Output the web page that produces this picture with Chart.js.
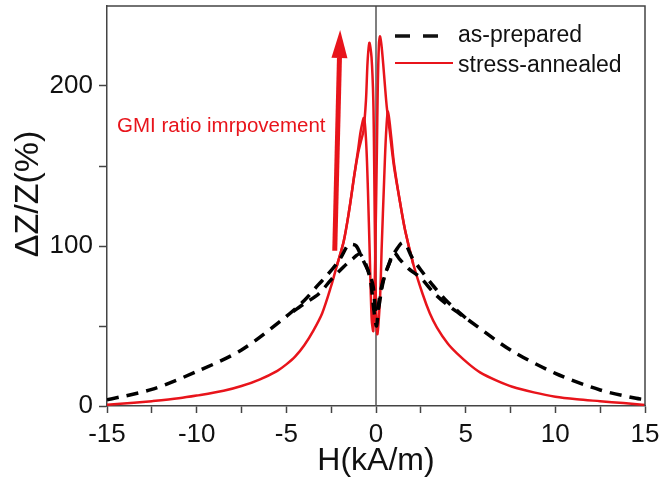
<!DOCTYPE html>
<html>
<head>
<meta charset="utf-8">
<script src="https://cdn.jsdelivr.net/npm/chart.js@4/dist/chart.umd.min.js"></script>
<style>
    html, body { margin: 0; padding: 0; background: #fff; }
    #wrap { width: 660px; height: 489px; }
</style>
</head>
<body>
<div id="wrap"><canvas id="grafico" width="660" height="489"></canvas></div>
<script>
// as-prepared: ida completa (-15 -> 15) e trecho central da volta (5 -> -5)
const hAsPrepIda = [-15, -12.5, -10, -7.5, -5, -4, -3.2, -2.7, -2, -1.6, -1.4, -1.1, -0.8, -0.5, -0.3, -0.15, 0, 0.12, 0.3, 0.45, 0.7, 1.0, 1.3, 1.8, 2.5, 3.2, 4, 5, 7.5, 10, 12.5, 14.5, 15];
const zAsPrepIda = [3.8, 10.4, 21.5, 35, 56, 66, 76, 82, 92, 100, 101, 100, 93, 86, 81, 74, 58, 60, 72, 80, 88, 96, 92, 86, 80, 71, 63, 55, 35, 20.4, 10, 4.8, 4];
const hAsPrepVolta = [5, 4, 3.2, 2.5, 2, 1.7, 1.45, 1.1, 0.85, 0.5, 0.3, 0.15, 0.03, -0.12, -0.3, -0.55, -0.9, -1.3, -1.8, -2.5, -3.2, -4, -5];
const zAsPrepVolta = [55, 65, 75, 85, 93, 100, 102, 97, 92, 82, 74, 64, 50, 60, 78, 88, 95, 92, 87, 79, 70, 64, 56];

// stress-annealed: ida completa e trecho central da volta
const hRecozIda = [-15, -13.5, -12.5, -11, -10, -8.5, -7.5, -6.5, -5.5, -5, -4.5, -4, -3.5, -3, -2.5, -2.2, -1.8, -1.5, -1.2, -1, -0.85, -0.67, -0.55, -0.45, -0.35, -0.24, -0.15, -0.05, 0.05, 0.1, 0.16, 0.22, 0.3, 0.4, 0.5, 0.6, 0.75, 1, 1.3, 1.62, 2.07, 2.6, 3, 3.4, 4, 4.5, 5.2, 5.8, 6.7, 7.6, 8.8, 10, 11.2, 12.5, 13.8, 15];
const zRecozIda = [0.8, 2, 3, 4.8, 6.5, 9.5, 12.5, 16.5, 22, 26, 31, 38, 47, 58, 75, 87, 103, 122, 145, 160, 172, 180, 165, 135, 95, 54, 47, 90, 160, 200, 225, 231, 226, 214, 200, 187, 173, 150, 130, 110, 89, 70, 58, 49, 39, 33, 26, 21, 16, 12, 8.5, 5.8, 4.2, 3, 1.8, 0.6];
const hRecozVolta = [2.07, 1.62, 1.3, 1, 0.85, 0.67, 0.56, 0.45, 0.32, 0.22, 0.07, -0.03, -0.1, -0.15, -0.25, -0.37, -0.47, -0.56, -0.7, -0.85, -1, -1.2, -1.5, -1.8, -2.2];
const zRecozVolta = [89, 110, 130, 152, 168, 184, 170, 140, 100, 66, 45, 80, 150, 191, 218, 227, 215, 191, 172, 165, 158, 145, 122, 103, 87];

const xTicksRotulo = [-15, -10, -5, 0, 5, 10, 15];
const yTicksRotulo = [0, 100, 200];
const tituloY = 'ΔZ/Z(%)';
const legendaNomes = ['as-prepared', 'stress-annealed'];
const textoAnotacao = 'GMI ratio imrpovement';
const anotacaoPos = { x: -14.44, y: 171 };
const setaDe = { x: -2.3, y: 97 };
const setaAte = { x: -2.0, y: 235 };

const VERMELHO = '#e8141b';
const FONTE = "'Liberation Sans', Arial, sans-serif";

function pares(hs, zs) {
    return hs.map((h, i) => ({ x: h, y: zs[i] }));
}

function serie(hs, zs, cor, largura, tracejado) {
    return {
        data: pares(hs, zs),
        borderColor: cor,
        borderWidth: largura,
        borderDash: tracejado || [],
        pointRadius: 0,
        tension: 0.3,
        fill: false,
        order: tracejado ? 0 : 1
    };
}

function semPadding(s) {
    s.paddingTop = 0;
    s.paddingBottom = 0;
    s.paddingLeft = 0;
    s.paddingRight = 0;
}

const pluginExtras = {
    id: 'extras',
    beforeDatasetsDraw(chart) {
        const { ctx, chartArea: a, scales: { x } } = chart;
        const x0 = x.getPixelForValue(0);
        ctx.save();
        ctx.strokeStyle = '#555';
        ctx.lineWidth = 1.5;
        ctx.beginPath();
        ctx.moveTo(x0, a.top);
        ctx.lineTo(x0, a.bottom);
        ctx.stroke();
        ctx.restore();
    },
    afterDatasetsDraw(chart) {
        const { ctx, scales: { x, y } } = chart;
        ctx.save();
        // seta
        const bx = x.getPixelForValue(setaDe.x), by = y.getPixelForValue(setaDe.y);
        const tx = x.getPixelForValue(setaAte.x), ty = y.getPixelForValue(setaAte.y);
        const ang = Math.atan2(ty - by, tx - bx);
        const cab = 28, meia = 8;
        const hx = tx - cab * Math.cos(ang), hy = ty - cab * Math.sin(ang);
        ctx.strokeStyle = VERMELHO;
        ctx.fillStyle = VERMELHO;
        ctx.lineWidth = 5;
        ctx.beginPath();
        ctx.moveTo(bx, by);
        ctx.lineTo(hx, hy);
        ctx.stroke();
        ctx.beginPath();
        ctx.moveTo(tx, ty);
        ctx.lineTo(hx + meia * Math.sin(ang), hy - meia * Math.cos(ang));
        ctx.lineTo(hx - meia * Math.sin(ang), hy + meia * Math.cos(ang));
        ctx.closePath();
        ctx.fill();

        // anotação
        ctx.font = '20.5px ' + FONTE;
        ctx.textBaseline = 'alphabetic';
        ctx.textAlign = 'left';
        ctx.fillText(textoAnotacao, x.getPixelForValue(anotacaoPos.x), y.getPixelForValue(anotacaoPos.y));
        ctx.restore();
    },
    afterDraw(chart) {
        const { ctx, chartArea: a } = chart;
        ctx.save();
        // moldura superior e direita
        ctx.strokeStyle = '#444';
        ctx.lineWidth = 1.5;
        ctx.beginPath();
        ctx.moveTo(a.left, a.top);
        ctx.lineTo(a.right, a.top);
        ctx.lineTo(a.right, a.bottom);
        ctx.stroke();

        // título do eixo y (um pouco acima do centro, como no original)
        ctx.save();
        ctx.translate(29, 194);
        ctx.rotate(-Math.PI / 2);
        ctx.font = '34px ' + FONTE;
        ctx.fillStyle = '#111';
        ctx.textAlign = 'center';
        ctx.textBaseline = 'middle';
        ctx.fillText(tituloY, 0, 0);
        ctx.restore();

        // legenda
        const lx = a.left + 288, tx2 = a.left + 351;
        ctx.font = '23px ' + FONTE;
        ctx.textBaseline = 'middle';
        ctx.textAlign = 'left';
        ctx.fillStyle = '#111';
        ctx.strokeStyle = '#111';
        ctx.lineWidth = 3.5;
        ctx.setLineDash([15, 13]);
        ctx.beginPath();
        ctx.moveTo(lx, 36);
        ctx.lineTo(lx + 43, 36);
        ctx.stroke();
        ctx.setLineDash([]);
        ctx.fillText(legendaNomes[0], tx2, 36);
        ctx.strokeStyle = VERMELHO;
        ctx.lineWidth = 2;
        ctx.beginPath();
        ctx.moveTo(lx, 63);
        ctx.lineTo(lx + 58, 63);
        ctx.stroke();
        ctx.fillText(legendaNomes[1], tx2, 66);
        ctx.restore();
    }
};

new Chart(document.getElementById('grafico'), {
    type: 'line',
    data: {
        datasets: [
            serie(hAsPrepIda, zAsPrepIda, '#000', 3.5, [12, 8]),
            serie(hAsPrepVolta, zAsPrepVolta, '#000', 3.5, [12, 8]),
            serie(hRecozIda, zRecozIda, VERMELHO, 2.5),
            serie(hRecozVolta, zRecozVolta, VERMELHO, 2.5)
        ]
    },
    options: {
        responsive: false,
        animation: false,
        layout: { padding: { top: 6, right: 15, left: 0, bottom: 0 } },
        plugins: { legend: { display: false }, tooltip: { enabled: false } },
        scales: {
            x: {
                type: 'linear',
                min: -15,
                max: 15,
                afterFit(s) { s.height = 83; semPadding(s); },
                afterBuildTicks(s) {
                    const t = [];
                    for (let v = -15; v <= 15; v += 2.5) t.push({ value: v });
                    s.ticks = t;
                },
                ticks: {
                    autoSkip: false,
                    maxRotation: 0,
                    padding: 6,
                    color: '#111',
                    font: { family: FONTE, size: 26 },
                    callback: (v) => xTicksRotulo.includes(v) ? String(v) : ''
                },
                grid: { drawOnChartArea: false, color: '#444', tickLength: 7, tickWidth: 1.5 },
                border: { color: '#444', width: 1.5 },
                title: {
                    display: true,
                    text: 'H(kA/m)',
                    color: '#111',
                    font: { family: FONTE, size: 32 },
                    padding: { top: 0, bottom: 9 }
                }
            },
            y: {
                type: 'linear',
                min: 0,
                max: 250,
                afterFit(s) { s.width = 107; semPadding(s); },
                afterBuildTicks(s) {
                    const t = [];
                    for (let v = 0; v <= 200; v += 50) t.push({ value: v });
                    s.ticks = t;
                },
                ticks: {
                    autoSkip: false,
                    padding: 6,
                    color: '#111',
                    font: { family: FONTE, size: 26 },
                    callback: (v) => yTicksRotulo.includes(v) ? String(v) : ''
                },
                grid: { drawOnChartArea: false, color: '#444', tickLength: 8, tickWidth: 1.5 },
                border: { color: '#444', width: 1.5 },
                title: { display: false }
            }
        }
    },
    plugins: [pluginExtras]
});
</script>
</body>
</html>
